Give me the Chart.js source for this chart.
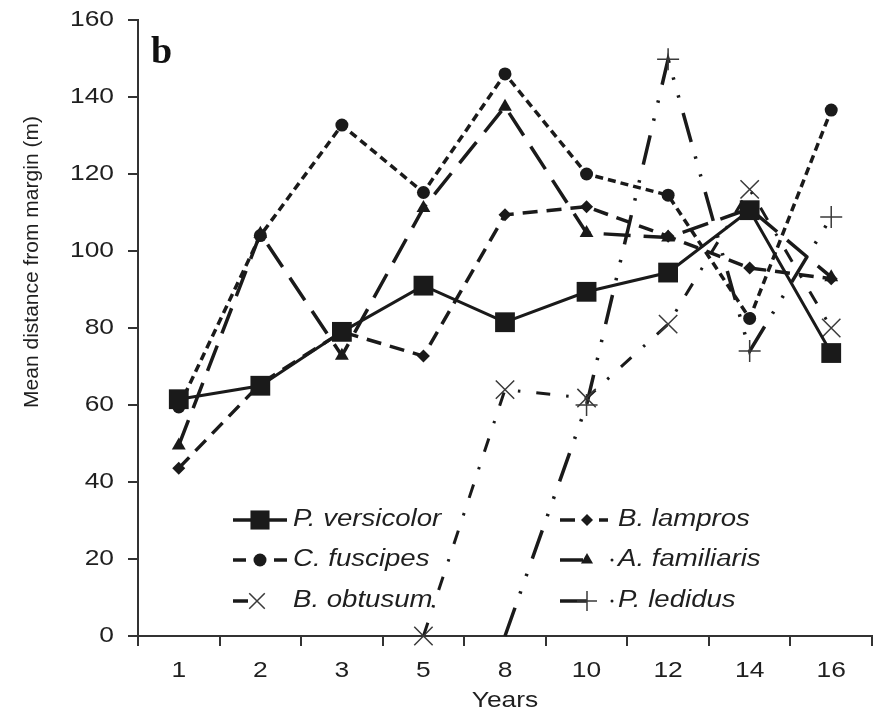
<!DOCTYPE html>
<html>
<head>
<meta charset="utf-8">
<script src="https://cdn.jsdelivr.net/npm/chart.js@4.4.1/dist/chart.umd.min.js"></script>
<style>
  html, body { margin: 0; padding: 0; background: #fff; }
  canvas { display: block; }
</style>
</head>
<body>
<canvas id="chart" width="879" height="716"></canvas>
<script>
// data (panel b)
const years = ['1', '2', '3', '5', '8', '10', '12', '14', '16'];
const yTicks = [0, 20, 40, 60, 80, 100, 120, 140, 160];

const pVersicolor = [61.5, 65, 79, 91, 81.5, 89.4, 94.4, 110.6, 73.5];
const cFuscipes = [59.5, 104, 132.7, 115.2, 146, 120, 114.5, 82.5, 136.6];
const bLampros = [43.6, 65.5, 79, 72.7, 109.4, 111.5, 103.8, 95.6, 92.8];
const aFamiliaris = [49.5, 104.5, 72.8, 111.2, 137.5, 104.7, 103.5, 111, 93.2];
const bObtusum = [null, null, null, 0, 64, 61.8, 81, 116, 80];
const pLedidus = [null, null, null, null, 0, 60, 149.8, 74, 108.8];

const ink = '#1a1a1a';
const textInk = '#1f1f1f';
const STRETCH = 1.2; // the figure's lettering is wide

const datasets = [
  {
    label: 'P. versicolor', data: pVersicolor,
    borderColor: ink, backgroundColor: ink, borderWidth: 3,
    pointStyle: 'rect', pointRadius: 14, pointBorderWidth: 0
  },
  {
    label: 'C. fuscipes', data: cFuscipes,
    borderColor: ink, backgroundColor: ink, borderWidth: 3.5, borderDash: [8, 5],
    pointStyle: 'circle', pointRadius: 6.5, pointBorderWidth: 0
  },
  {
    label: 'B. obtusum', data: bObtusum,
    borderColor: ink, backgroundColor: ink, borderWidth: 3, borderDash: [14, 16, 2.5, 16],
    pointStyle: 'crossRot', pointRadius: 13, pointBorderWidth: 1.5, pointBorderColor: '#3a3a3a'
  },
  {
    label: 'B. lampros', data: bLampros,
    borderColor: ink, backgroundColor: ink, borderWidth: 3.5, borderDash: [15, 9],
    pointStyle: 'rectRot', pointRadius: 6.5, pointBorderWidth: 0
  },
  {
    label: 'A. familiaris', data: aFamiliaris,
    borderColor: ink, backgroundColor: ink, borderWidth: 3.5, borderDash: [27, 13],
    pointStyle: 'triangle', pointRadius: 8, pointBorderWidth: 0
  },
  {
    label: 'P. ledidus', data: pLedidus,
    borderColor: ink, backgroundColor: ink, borderWidth: 3.5, borderDash: [30, 15, 2.5, 16, 2.5, 16],
    pointStyle: 'cross', pointRadius: [0, 0, 0, 0, 0, 11, 11, 11, 11], pointBorderWidth: 1.5, pointBorderColor: '#3a3a3a'
  }
];
datasets.forEach(ds => { ds.clip = false; ds.tension = 0; ds.fill = false; ds.spanGaps = false; });

// legend layout: dataset index, line pieces, marker x and radius, trailing dot x, text x, row y
const legendRows = [
  { di: 0, pieces: [[233, 287]], mx: 260, r: 13.5, dot: null, tx: 293, y: 520 },
  { di: 1, pieces: [[233, 246], [274, 287]], mx: 260, r: 6.5, dot: null, tx: 293, y: 560 },
  { di: 2, pieces: [[233, 248]], mx: 257, r: 11, dot: null, tx: 293, y: 601 },
  { di: 3, pieces: [[560, 575], [599, 608]], mx: 587, r: 6, dot: null, tx: 618, y: 520 },
  { di: 4, pieces: [[560, 583]], mx: 587, r: 7, dot: 612, tx: 618, y: 560 },
  { di: 5, pieces: [[560, 587]], mx: 587, r: 10, dot: 612, tx: 618, y: 601 }
];

function wideText(ctx, text, x, y, align, font) {
  ctx.save();
  ctx.font = font;
  ctx.fillStyle = textInk;
  ctx.textBaseline = 'middle';
  ctx.textAlign = align;
  ctx.translate(x, y);
  ctx.scale(STRETCH, 1);
  ctx.fillText(text, 0, 0);
  ctx.restore();
}

const lettering = {
  id: 'lettering',
  afterDraw(chart) {
    const ctx = chart.ctx;
    const xs = chart.scales.x;
    const ys = chart.scales.y;
    const tickFont = '22px "Liberation Sans", Arial, sans-serif';

    // tick labels
    ys.ticks.forEach(t => {
      wideText(ctx, String(t.value), 114, ys.getPixelForValue(t.value), 'right', tickFont);
    });
    years.forEach((lab, i) => {
      wideText(ctx, lab, xs.getPixelForTick(i), 671, 'center', tickFont);
    });

    // axis titles
    wideText(ctx, 'Years', 505, 701, 'center', tickFont);
    ctx.save();
    ctx.translate(32, 262);
    ctx.rotate(-Math.PI / 2);
    ctx.font = '21px "Liberation Sans", Arial, sans-serif';
    ctx.fillStyle = textInk;
    ctx.textAlign = 'center';
    ctx.textBaseline = 'middle';
    ctx.fillText('Mean distance from margin (m)', 0, 0);
    ctx.restore();

    // panel letter
    ctx.save();
    ctx.font = 'bold 38px "Liberation Serif", "Times New Roman", serif';
    ctx.fillStyle = '#111';
    ctx.textBaseline = 'alphabetic';
    ctx.fillText('b', 151, 63);
    ctx.restore();

    // legend inside the plot
    legendRows.forEach(row => {
      const ds = chart.data.datasets[row.di];
      ctx.save();
      ctx.strokeStyle = ds.borderColor;
      ctx.lineWidth = 3.5;
      row.pieces.forEach(([a, b]) => {
        ctx.beginPath();
        ctx.moveTo(a, row.y);
        ctx.lineTo(b, row.y);
        ctx.stroke();
      });
      if (row.dot) {
        ctx.fillStyle = ink;
        ctx.beginPath();
        ctx.arc(row.dot, row.y, 1.5, 0, Math.PI * 2);
        ctx.fill();
      }
      ctx.fillStyle = ds.backgroundColor;
      ctx.strokeStyle = ds.pointBorderColor || ds.borderColor;
      ctx.lineWidth = ds.pointBorderWidth;
      Chart.helpers.drawPoint(ctx, {
        pointStyle: ds.pointStyle,
        radius: row.r,
        rotation: 0,
        borderWidth: ds.pointBorderWidth
      }, row.mx, row.y);
      ctx.restore();
      wideText(ctx, ds.label, row.tx, row.y, 'left', 'italic 23px "Liberation Sans", Arial, sans-serif');
    });
  }
};

new Chart(document.getElementById('chart'), {
  type: 'line',
  data: { labels: years, datasets: datasets },
  options: {
    responsive: false,
    animation: false,
    events: [],
    layout: { autoPadding: false, padding: { left: 0, top: 20, right: 7, bottom: 0 } },
    plugins: { legend: { display: false }, tooltip: { enabled: false } },
    scales: {
      x: {
        type: 'category',
        offset: true,
        grid: { offset: true, drawOnChartArea: false, drawTicks: true, tickLength: 10, color: '#333', lineWidth: 2 },
        border: { display: true, color: '#333', width: 2 },
        ticks: { display: false },
        afterFit(scale) { scale.height = 80; }
      },
      y: {
        min: 0,
        max: 160,
        afterBuildTicks(scale) { scale.ticks = yTicks.map(v => ({ value: v })); },
        grid: { drawOnChartArea: false, drawTicks: true, tickLength: 10, color: '#333', lineWidth: 2 },
        border: { display: true, color: '#333', width: 2 },
        ticks: { display: false },
        afterFit(scale) { scale.width = 138; }
      }
    }
  },
  plugins: [lettering]
});
</script>
</body>
</html>
